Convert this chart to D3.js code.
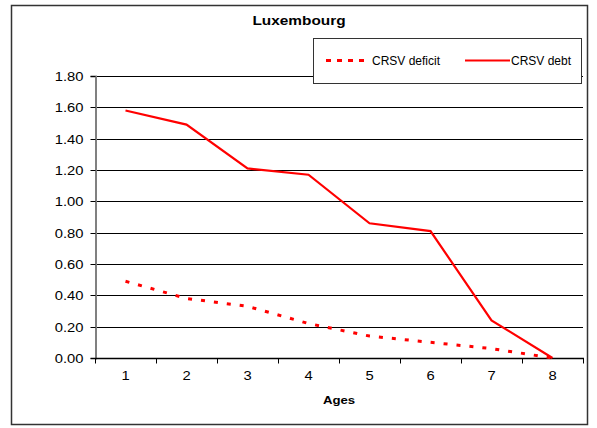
<!DOCTYPE html>
<html><head><meta charset="utf-8">
<script src="https://cdn.jsdelivr.net/npm/d3@7"></script>
<style>body{margin:0;background:#fff}svg{display:block}text{font-family:"Liberation Sans",Arial,sans-serif}</style>
</head><body><svg id="c" width="597" height="428"></svg>
<script>
const ages = ["1","2","3","4","5","6","7","8"];
const crsvDeficit = [0.49, 0.38, 0.33, 0.22, 0.14, 0.10, 0.06, 0.00];
const crsvDebt = [1.58, 1.49, 1.21, 1.17, 0.86, 0.81, 0.24, 0.00];
const yTicks = [0, 0.2, 0.4, 0.6, 0.8, 1.0, 1.2, 1.4, 1.6, 1.8];

const svg = d3.select("#c");
const L = 95, R = 583, T = 76, B = 358;
const x = d3.scaleBand().domain(ages).range([L, R]);
const y = d3.scaleLinear().domain([0, 1.8]).range([B, T]);
const SX = 1.23;

// outer frame
svg.append("rect").attr("x", 11.5).attr("y", 5.5).attr("width", 576).attr("height", 419)
  .attr("fill", "#fff").attr("stroke", "#333").attr("stroke-width", 1.5);

// gridlines
svg.append("g").selectAll("line").data(yTicks.filter(d => d > 0)).join("line")
  .attr("x1", L).attr("x2", R).attr("y1", d => Math.round(y(d)) + 0.5).attr("y2", d => Math.round(y(d)) + 0.5)
  .attr("stroke", "#000").attr("stroke-width", 1);

// y axis
const yAxis = d3.axisLeft(y).tickValues(yTicks).tickFormat(d3.format(".2f")).tickSize(5).tickPadding(0);
const gy = svg.append("g").attr("transform", `translate(${L + 0.5},0)`).call(yAxis);
gy.select(".domain").attr("stroke", "#808080").attr("stroke-width", 2);
gy.selectAll(".tick line").attr("stroke", "#000");
gy.selectAll(".tick").attr("transform", d => `translate(0,${Math.round(y(d)) + 0.5})`);
gy.selectAll("text").attr("font-size", 12).attr("fill", "#000")
  .attr("font-family", "Liberation Sans, Arial, sans-serif")
  .attr("x", null).attr("dy", null).attr("y", 4.5)
  .attr("transform", `translate(-12,0) scale(${SX},1)`);

// x axis
const gx = svg.append("g").attr("transform", `translate(0,${B + 0.5})`);
gx.append("line").attr("x1", L).attr("x2", R + 1).attr("stroke", "#000").attr("stroke-width", 1.5);
const bounds = ages.map(a => x(a)).concat([R]);
gx.selectAll("line.t").data(bounds).join("line").attr("class", "t")
  .attr("x1", d => Math.round(d) + 0.5).attr("x2", d => Math.round(d) + 0.5).attr("y1", 0).attr("y2", 5)
  .attr("stroke", "#000");
gx.selectAll("text").data(ages).join("text")
  .attr("transform", d => `translate(${x(d) + x.bandwidth() / 2},21.5) scale(${SX},1)`)
  .attr("text-anchor", "middle").attr("font-size", 12).text(d => d);

// lines
const line = d3.line().x((d, i) => x(ages[i]) + x.bandwidth() / 2).y(d => y(d));
svg.append("path").datum(crsvDebt).attr("d", line).attr("fill", "none")
  .attr("stroke", "#ff0000").attr("stroke-width", 2.2);
svg.append("path").datum(crsvDeficit).attr("d", line).attr("fill", "none")
  .attr("stroke", "#ff0000").attr("stroke-width", 3).attr("stroke-dasharray", "4,9");

// title
svg.append("text").attr("transform", `translate(299,25) scale(${SX},1)`).attr("text-anchor", "middle")
  .attr("font-size", 12.5).attr("font-weight", "bold").text("Luxembourg");
// x axis title
svg.append("text").attr("transform", `translate(339,404) scale(1.2,1)`).attr("text-anchor", "middle")
  .attr("font-size", 11).attr("font-weight", "bold").text("Ages");

// legend
const lg = svg.append("g");
lg.append("rect").attr("x", 313.5).attr("y", 38.5).attr("width", 268).attr("height", 45)
  .attr("fill", "#fff").attr("stroke", "#333").attr("stroke-width", 1);
lg.append("line").attr("x1", 326).attr("x2", 370).attr("y1", 60.5).attr("y2", 60.5)
  .attr("stroke", "#ff0000").attr("stroke-width", 3).attr("stroke-dasharray", "5,6");
lg.append("text").attr("x", 372).attr("y", 65).attr("font-size", 12).text("CRSV deficit");
lg.append("line").attr("x1", 465).attr("x2", 510).attr("y1", 60.5).attr("y2", 60.5)
  .attr("stroke", "#ff0000").attr("stroke-width", 2.2);
lg.append("text").attr("x", 511).attr("y", 65).attr("font-size", 12).text("CRSV debt");
</script></body></html>
